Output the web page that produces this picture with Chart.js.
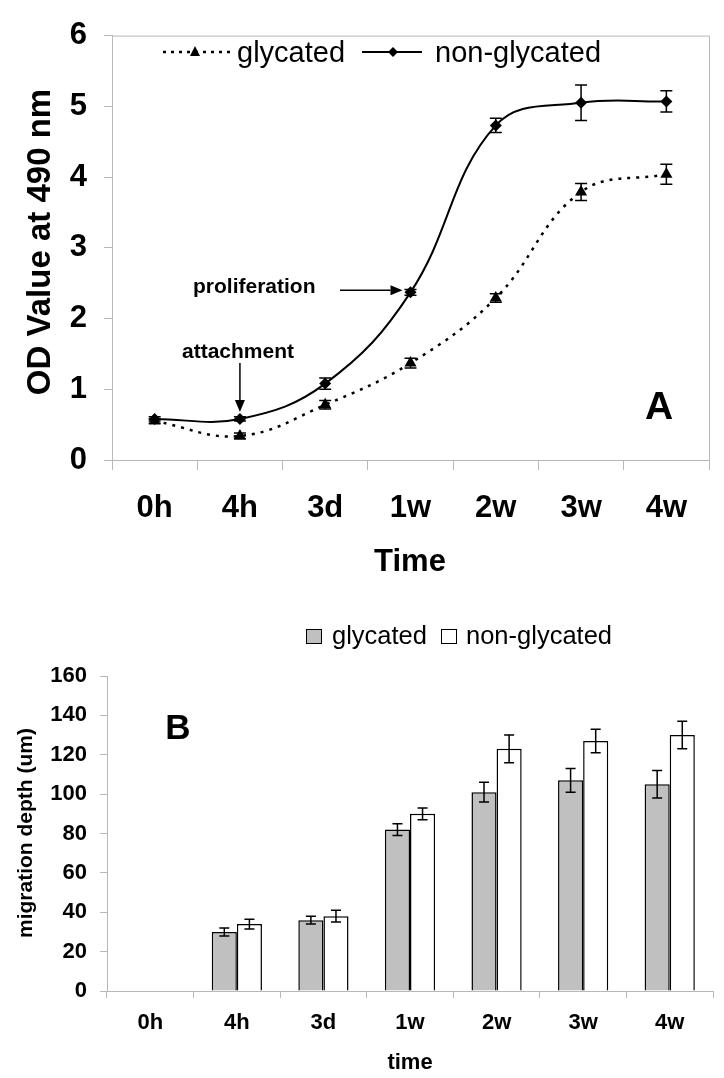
<!DOCTYPE html>
<html lang="en">
<head>
<meta charset="UTF-8">
<title>OD value and migration depth over time</title>
<script src="https://cdn.jsdelivr.net/npm/chart.js"></script>
<style>
    body { margin: 0; background: #fff; }
    .page { position: relative; width: 724px; height: 1078px; }
    .panel { position: absolute; left: 0; width: 724px; }
    #panelA { top: 0; height: 595px; }
    #panelB { top: 595px; height: 483px; }
</style>
</head>
<body>
<div class="page">
    <div class="panel" id="panelA"><canvas id="odChart"></canvas></div>
    <div class="panel" id="panelB"><canvas id="depthChart"></canvas></div>
</div>
<script>
    // time points shared by both panels
    const timeLabels = ['0h', '4h', '3d', '1w', '2w', '3w', '4w'];

    // panel A: OD value at 490 nm
    const odGlycated = [0.55, 0.34, 0.78, 1.37, 2.29, 3.79, 4.04];
    const odGlycatedErr = [0.03, 0.04, 0.06, 0.07, 0.06, 0.12, 0.14];
    const odNonGlycated = [0.58, 0.58, 1.08, 2.37, 4.73, 5.05, 5.07];
    const odNonGlycatedErr = [0.03, 0.03, 0.08, 0.04, 0.10, 0.25, 0.15];
    const odTicks = [0, 1, 2, 3, 4, 5, 6];

    // panel B: migration depth (um)
    const depthGlycated = [0, 30, 36, 82, 101, 107, 105];
    const depthGlycatedErr = [0, 2, 2, 3, 5, 6, 7];
    const depthNonGlycated = [0, 34, 38, 90, 123, 127, 130];
    const depthNonGlycatedErr = [0, 2.5, 3, 3, 7, 6, 7];
    const depthTicks = [0, 20, 40, 60, 80, 100, 120, 140, 160];

    const FONT = "'Liberation Sans', Arial, sans-serif";
    Chart.defaults.font.family = FONT;
    Chart.defaults.color = '#000';
    const AXIS_GRAY = '#b8b8b8';

    function drawErrorBars(chart, errs, capHalf, width) {
        const ctx = chart.ctx;
        const yScale = chart.scales.y;
        ctx.save();
        ctx.strokeStyle = '#000';
        ctx.lineWidth = width;
        ctx.setLineDash([]);
        chart.data.datasets.forEach((ds, i) => {
            const meta = chart.getDatasetMeta(i);
            meta.data.forEach((el, j) => {
                const e = errs[i][j];
                if (!e) return;
                const v = ds.data[j];
                const yTop = yScale.getPixelForValue(v + e);
                const yBot = yScale.getPixelForValue(v - e);
                ctx.beginPath();
                ctx.moveTo(el.x, yTop); ctx.lineTo(el.x, yBot);
                ctx.moveTo(el.x - capHalf, yTop); ctx.lineTo(el.x + capHalf, yTop);
                ctx.moveTo(el.x - capHalf, yBot); ctx.lineTo(el.x + capHalf, yBot);
                ctx.stroke();
            });
        });
        ctx.restore();
    }

    function arrow(ctx, x1, y1, x2, y2) {
        const a = Math.atan2(y2 - y1, x2 - x1);
        const len = 12, half = 5;
        ctx.beginPath();
        ctx.moveTo(x1, y1);
        ctx.lineTo(x2 - len * Math.cos(a), y2 - len * Math.sin(a));
        ctx.stroke();
        ctx.beginPath();
        ctx.moveTo(x2, y2);
        ctx.lineTo(x2 - len * Math.cos(a) - half * Math.sin(a), y2 - len * Math.sin(a) + half * Math.cos(a));
        ctx.lineTo(x2 - len * Math.cos(a) + half * Math.sin(a), y2 - len * Math.sin(a) - half * Math.cos(a));
        ctx.closePath();
        ctx.fill();
    }

    // ---------- Panel A ----------
    const panelADecor = {
        id: 'panelADecor',
        beforeDraw(chart) {
            const { ctx, chartArea: a } = chart;
            ctx.save();
            ctx.strokeStyle = AXIS_GRAY;
            ctx.lineWidth = 1;
            ctx.beginPath();
            ctx.moveTo(a.left, a.top + 0.5);
            ctx.lineTo(a.right + 0.5, a.top + 0.5);
            ctx.lineTo(a.right + 0.5, a.bottom);
            ctx.stroke();
            ctx.restore();
        },
        afterDraw(chart) {
            const ctx = chart.ctx;
            const xs = chart.scales.x, ys = chart.scales.y;
            ctx.save();
            ctx.fillStyle = '#000';
            ctx.strokeStyle = '#000';

            // axis titles
            ctx.font = 'bold 31px ' + FONT;
            ctx.textAlign = 'center';
            ctx.textBaseline = 'middle';
            ctx.fillText('Time', 410, 562);
            ctx.save();
            ctx.translate(41, 242);
            ctx.rotate(-Math.PI / 2);
            ctx.font = 'bold 33px ' + FONT;
            ctx.fillText('OD Value at 490 nm', 0, 0);
            ctx.restore();

            // panel letter
            ctx.font = 'bold 39px ' + FONT;
            ctx.fillText('A', 659, 408);

            // legend
            ctx.lineWidth = 2.5;
            ctx.setLineDash([3, 5]);
            ctx.beginPath(); ctx.moveTo(163, 52); ctx.lineTo(231, 52); ctx.stroke();
            ctx.setLineDash([]);
            ctx.beginPath();
            ctx.moveTo(195, 46); ctx.lineTo(200, 56); ctx.lineTo(190, 56); ctx.closePath(); ctx.fill();
            ctx.lineWidth = 2;
            ctx.beginPath(); ctx.moveTo(362, 52); ctx.lineTo(422, 52); ctx.stroke();
            ctx.beginPath();
            ctx.moveTo(393, 47); ctx.lineTo(398, 52); ctx.lineTo(393, 57); ctx.lineTo(388, 52); ctx.closePath(); ctx.fill();
            ctx.font = '29px ' + FONT;
            ctx.textAlign = 'left';
            ctx.textBaseline = 'alphabetic';
            ctx.fillText('glycated', 237, 62);
            ctx.fillText('non-glycated', 435, 62);

            // annotations
            ctx.font = 'bold 21px ' + FONT;
            ctx.fillText('proliferation', 193, 293);
            ctx.fillText('attachment', 182, 358);
            ctx.lineWidth = 1.5;
            const px = xs.getPixelForValue(3), py = ys.getPixelForValue(odNonGlycated[3]);
            arrow(ctx, 340, py - 2, px - 8, py - 2);
            const ax = xs.getPixelForValue(1), ay = ys.getPixelForValue(odNonGlycated[1]);
            arrow(ctx, ax, 363, ax, ay - 7);
            ctx.restore();
        },
        afterDatasetsDraw(chart) {
            drawErrorBars(chart, [odGlycatedErr, odNonGlycatedErr], 6, 1.5);
        }
    };

    new Chart(document.getElementById('odChart'), {
        type: 'line',
        data: {
            labels: timeLabels,
            datasets: [{
                label: 'glycated',
                data: odGlycated,
                borderColor: '#000',
                borderWidth: 2.5,
                borderDash: [3, 6],
                tension: 0.4,
                pointStyle: 'triangle',
                pointRadius: 7,
                pointBorderWidth: 0,
                pointBackgroundColor: '#000'
            }, {
                label: 'non-glycated',
                data: odNonGlycated,
                borderColor: '#000',
                borderWidth: 2,
                tension: 0.4,
                pointStyle: 'rectRot',
                pointRadius: 6,
                pointBorderWidth: 0,
                pointBackgroundColor: '#000'
            }]
        },
        options: {
            responsive: true,
            maintainAspectRatio: false,
            animation: false,
            layout: { padding: { top: 24, right: 15, left: 0, bottom: 0 } },
            plugins: { legend: { display: false }, tooltip: { enabled: false } },
            scales: {
                x: {
                    offset: true,
                    grid: { offset: true, drawOnChartArea: false, tickLength: 10, color: AXIS_GRAY },
                    border: { color: AXIS_GRAY },
                    ticks: { font: { size: 31, weight: 'bold' }, color: '#000', padding: 20, maxRotation: 0 },
                    afterFit: s => { s.height = 135; }
                },
                y: {
                    min: 0,
                    max: 6,
                    afterBuildTicks: s => { s.ticks = odTicks.map(v => ({ value: v })); },
                    grid: { drawOnChartArea: false, tickLength: 8, color: AXIS_GRAY },
                    border: { color: AXIS_GRAY },
                    ticks: { font: { size: 31, weight: 'bold' }, color: '#000', padding: 17 },
                    afterFit: s => { s.width = 112; }
                }
            }
        },
        plugins: [panelADecor]
    });

    // ---------- Panel B ----------
    const panelBDecor = {
        id: 'panelBDecor',
        afterDatasetsDraw(chart) {
            drawErrorBars(chart, [depthGlycatedErr, depthNonGlycatedErr], 5, 1.5);
        },
        afterDraw(chart) {
            const ctx = chart.ctx;
            ctx.save();
            ctx.fillStyle = '#000';
            ctx.textAlign = 'center';
            ctx.textBaseline = 'middle';
            ctx.font = 'bold 22px ' + FONT;
            ctx.fillText('time', 410, 468);
            ctx.save();
            ctx.translate(26, 238);
            ctx.rotate(-Math.PI / 2);
            ctx.font = 'bold 21px ' + FONT;
            ctx.fillText('migration depth (um)', 0, 0);
            ctx.restore();

            ctx.font = 'bold 35px ' + FONT;
            ctx.fillText('B', 178, 134);

            // legend
            ctx.lineWidth = 1;
            ctx.strokeStyle = '#000';
            ctx.fillStyle = '#c0c0c0';
            ctx.fillRect(306.5, 34.5, 15, 14);
            ctx.strokeRect(306.5, 34.5, 15, 14);
            ctx.fillStyle = '#fff';
            ctx.fillRect(441.5, 34.5, 15, 14);
            ctx.strokeRect(441.5, 34.5, 15, 14);
            ctx.fillStyle = '#000';
            ctx.textAlign = 'left';
            ctx.font = '25.5px ' + FONT;
            ctx.fillText('glycated', 332, 42);
            ctx.fillText('non-glycated', 466, 42);
            ctx.restore();
        }
    };

    new Chart(document.getElementById('depthChart'), {
        type: 'bar',
        data: {
            labels: timeLabels,
            datasets: [{
                label: 'glycated',
                data: depthGlycated,
                backgroundColor: '#c0c0c0',
                borderColor: '#000',
                borderWidth: 1.5,
                categoryPercentage: 0.58,
                barPercentage: 1.0
            }, {
                label: 'non-glycated',
                data: depthNonGlycated,
                backgroundColor: '#fff',
                borderColor: '#000',
                borderWidth: 1.5,
                categoryPercentage: 0.58,
                barPercentage: 1.0
            }]
        },
        options: {
            responsive: true,
            maintainAspectRatio: false,
            animation: false,
            layout: { padding: { top: 81, right: 11, left: 0, bottom: 0 } },
            plugins: { legend: { display: false }, tooltip: { enabled: false } },
            scales: {
                x: {
                    grid: { offset: true, drawOnChartArea: false, tickLength: 7, color: AXIS_GRAY },
                    border: { color: AXIS_GRAY },
                    ticks: { font: { size: 22, weight: 'bold' }, color: '#000', padding: 12, maxRotation: 0 },
                    afterFit: s => { s.height = 87; }
                },
                y: {
                    min: 0,
                    max: 160,
                    afterBuildTicks: s => { s.ticks = depthTicks.map(v => ({ value: v })); },
                    grid: { drawOnChartArea: false, tickLength: 7, color: AXIS_GRAY },
                    border: { color: AXIS_GRAY },
                    ticks: { font: { size: 22, weight: 'bold' }, color: '#000', padding: 13 },
                    afterFit: s => { s.width = 107; }
                }
            }
        },
        plugins: [panelBDecor]
    });
</script>
</body>
</html>
